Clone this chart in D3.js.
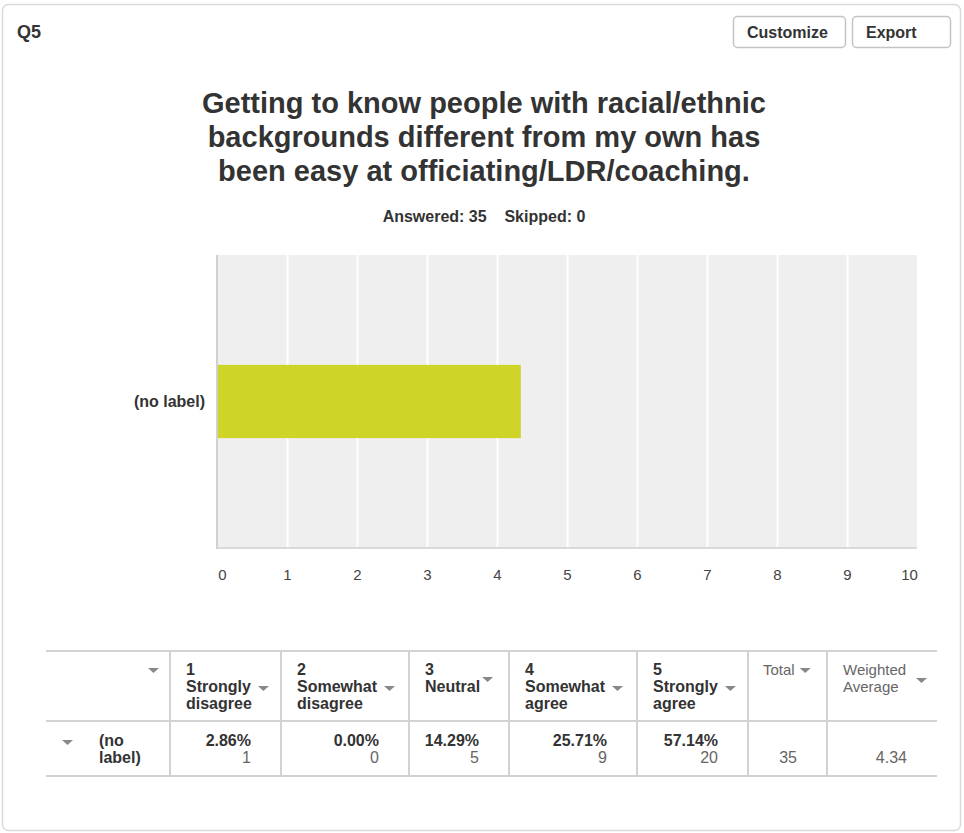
<!DOCTYPE html>
<html>
<head>
<meta charset="utf-8">
<script src="https://cdn.jsdelivr.net/npm/d3@7"></script>
<style>
  body { margin: 0; background: #fff; }
  svg { display: block; font-family: "Liberation Sans", Arial, Helvetica, sans-serif; }
  .dark { fill: #333; }
  .soft { fill: #666; }
  .caret { fill: #888; }
</style>
</head>
<body>
<svg id="chart"></svg>
<script>
// values
const questionId = 'Q5';
const titleLines = [
    'Getting to know people with racial/ethnic',
    'backgrounds different from my own has',
    'been easy at officiating/LDR/coaching.'
];
const answered = 35;
const skipped = 0;

const categories = ['(no label)'];
const averages = [4.34];
const xTickValues = [0, 1, 2, 3, 4, 5, 6, 7, 8, 9, 10];

const scaleHeaders = [
    ['1', 'Strongly', 'disagree'],
    ['2', 'Somewhat', 'disagree'],
    ['3', 'Neutral'],
    ['4', 'Somewhat', 'agree'],
    ['5', 'Strongly', 'agree']
];
const percents = ['2.86%', '0.00%', '14.29%', '25.71%', '57.14%'];
const counts = [1, 0, 5, 9, 20];
const totals = [35];
const weightedAverages = ['4.34'];

class surveyChart {
    constructor(_config) {
        this.config = {
            parentElement: _config.parentElement,
            containerWidth: 964,
            containerHeight: 833,
            plot: { left: 217, right: 917, top: 255, bottom: 548 },
            // table column edges
            cols: [46, 170, 281, 409, 509, 637, 748, 827, 937],
            tableTop: 651,
            tableMid: 721,
            tableBottom: 776,
            font: '"Liberation Sans", Arial, Helvetica, sans-serif'
        };
        this.initVis();
    }

    initVis() {
        let vis = this;
        const c = vis.config;

        vis.svg = d3.select(c.parentElement)
            .attr('width', c.containerWidth)
            .attr('height', c.containerHeight);

        // card frame
        vis.svg.append('rect')
            .attr('x', 2.5).attr('y', 4.5)
            .attr('width', 958).attr('height', 826)
            .attr('rx', 6)
            .attr('fill', '#fff')
            .attr('stroke', '#dadada')
            .attr('stroke-width', 1.5);

        vis.svg.append('text')
            .attr('class', 'dark')
            .attr('x', 17).attr('y', 38)
            .attr('font-size', 18).attr('font-weight', 'bold')
            .text(questionId);

        // buttons in the top right corner
        const buttons = [
            { label: 'Customize', x: 733, w: 112 },
            { label: 'Export', x: 852, w: 98 }
        ];
        const btn = vis.svg.selectAll('.btn')
            .data(buttons)
            .join('g')
            .attr('class', 'btn')
            .attr('transform', d => `translate(${d.x}, 16)`);
        btn.append('rect')
            .attr('x', 0.5).attr('y', 0.5)
            .attr('width', d => d.w).attr('height', 31)
            .attr('rx', 4)
            .attr('fill', '#fff')
            .attr('stroke', '#c4c4c4')
            .attr('stroke-width', 1.5);
        btn.append('text')
            .attr('class', 'dark')
            .attr('x', 14).attr('y', 22)
            .attr('font-size', 16).attr('font-weight', 'bold')
            .text(d => d.label);

        vis.svg.selectAll('.title-line')
            .data(titleLines)
            .join('text')
            .attr('class', 'title-line dark')
            .attr('x', 484)
            .attr('y', (d, i) => 113 + i * 34)
            .attr('text-anchor', 'middle')
            .attr('font-size', 29).attr('font-weight', 'bold')
            .text(d => d);

        vis.svg.append('text')
            .attr('class', 'dark')
            .attr('x', 484).attr('y', 222)
            .attr('text-anchor', 'middle')
            .attr('font-size', 16).attr('font-weight', 'bold')
            .attr('xml:space', 'preserve')
            .text(`Answered: ${answered}    Skipped: ${skipped}`);

        vis.renderBars();
        vis.renderTable();
    }

    renderBars() {
        let vis = this;
        const p = vis.config.plot;

        vis.xScale = d3.scaleLinear()
            .domain([0, 10])
            .range([p.left, p.right]);

        vis.yScale = d3.scaleBand()
            .domain(categories)
            .range([p.top, p.bottom])
            .padding(0.6);

        vis.svg.append('rect')
            .attr('x', p.left).attr('y', p.top)
            .attr('width', p.right - p.left)
            .attr('height', p.bottom - p.top)
            .attr('fill', '#efefef');

        // white grid lines
        const grid = vis.svg.append('g')
            .attr('transform', `translate(0, ${p.bottom})`)
            .call(d3.axisBottom(vis.xScale)
                .tickValues(xTickValues.slice(1, -1))
                .tickSize(-(p.bottom - p.top))
                .tickFormat(''));
        grid.select('.domain').remove();
        grid.selectAll('.tick line')
            .attr('stroke', '#fff')
            .attr('stroke-width', 2);

        vis.svg.selectAll('.bar')
            .data(averages)
            .join('rect')
            .attr('class', 'bar')
            .attr('x', vis.xScale(0))
            .attr('y', (d, i) => vis.yScale(categories[i]))
            .attr('width', d => vis.xScale(d) - vis.xScale(0))
            .attr('height', vis.yScale.bandwidth())
            .attr('fill', '#cfd428');

        // axis lines
        vis.svg.append('line')
            .attr('x1', p.left).attr('x2', p.right)
            .attr('y1', p.bottom).attr('y2', p.bottom)
            .attr('stroke', '#d9d9d9').attr('stroke-width', 2);
        vis.svg.append('line')
            .attr('x1', p.left).attr('x2', p.left)
            .attr('y1', p.top).attr('y2', p.bottom + 1)
            .attr('stroke', '#d0d0d0').attr('stroke-width', 2);

        // tick labels
        const xAxis = vis.svg.append('g')
            .attr('transform', `translate(0, ${p.bottom})`)
            .call(d3.axisBottom(vis.xScale)
                .tickValues(xTickValues)
                .tickSize(0)
                .tickPadding(21)
                .tickFormat(d3.format('d')));
        xAxis.select('.domain').remove();
        xAxis.selectAll('text')
            .attr('font-family', vis.config.font)
            .attr('font-size', 15)
            .attr('fill', '#444')
            .attr('dx', d => d === 0 ? 5 : (d === 10 ? -8 : 0));

        const yAxis = vis.svg.append('g')
            .attr('transform', `translate(${p.left}, 0)`)
            .call(d3.axisLeft(vis.yScale).tickSize(0).tickPadding(12));
        yAxis.select('.domain').remove();
        yAxis.selectAll('text')
            .attr('font-family', vis.config.font)
            .attr('font-size', 16)
            .attr('font-weight', 'bold')
            .attr('fill', '#333');
    }

    caret(x, y) {
        let vis = this;
        vis.svg.append('path')
            .attr('class', 'caret')
            .attr('d', `M${x},${y} L${x + 11},${y} L${x + 5.5},${y + 5} Z`);
    }

    renderTable() {
        let vis = this;
        const c = vis.config;
        const cols = c.cols;

        [c.tableTop, c.tableMid, c.tableBottom].forEach(y => {
            vis.svg.append('line')
                .attr('x1', cols[0]).attr('x2', cols[cols.length - 1])
                .attr('y1', y).attr('y2', y)
                .attr('stroke', '#d2d2d2').attr('stroke-width', 2);
        });
        cols.slice(1, -1).forEach(x => {
            vis.svg.append('line')
                .attr('x1', x).attr('x2', x)
                .attr('y1', c.tableTop).attr('y2', c.tableBottom)
                .attr('stroke', '#d2d2d2').attr('stroke-width', 2);
        });

        const lineH = 17;
        const headBase = 675;
        const rowBase = 746;

        // scale headers
        scaleHeaders.forEach((lines, i) => {
            const x0 = cols[i + 1] + 16;
            const t = vis.svg.append('text')
                .attr('class', 'dark')
                .attr('font-size', 16).attr('font-weight', 'bold');
            lines.forEach((l, j) => {
                t.append('tspan')
                    .attr('x', x0)
                    .attr('y', headBase + j * lineH)
                    .text(l);
            });
            const w = t.selectAll('tspan').nodes()[1].getComputedTextLength();
            if (lines.length > 2) {
                vis.caret(x0 + w + 7, headBase + lineH - 6);
            } else {
                vis.caret(x0 + w + 2, headBase + 2);
            }
        });

        const totalX = cols[6] + 15;
        const totalText = vis.svg.append('text')
            .attr('class', 'soft')
            .attr('x', totalX).attr('y', headBase)
            .attr('font-size', 15)
            .text('Total');
        vis.caret(totalX + totalText.node().getComputedTextLength() + 5, headBase - 7);

        const wa = vis.svg.append('text')
            .attr('class', 'soft')
            .attr('font-size', 15);
        ['Weighted', 'Average'].forEach((l, j) => {
            wa.append('tspan').attr('x', cols[7] + 16).attr('y', headBase + j * lineH).text(l);
        });
        vis.caret(cols[8] - 21, headBase + 3);

        // first column carets
        vis.caret(cols[1] - 22, headBase - 7);
        vis.caret(62, rowBase - 6);

        const rowLabel = vis.svg.append('text')
            .attr('class', 'dark')
            .attr('font-size', 16).attr('font-weight', 'bold');
        ['(no', 'label)'].forEach((l, j) => {
            rowLabel.append('tspan').attr('x', 99).attr('y', rowBase + j * lineH).text(l);
        });

        // percent + count cells, right aligned
        vis.svg.selectAll('.pct')
            .data(percents)
            .join('text')
            .attr('class', 'pct dark')
            .attr('x', (d, i) => cols[i + 2] - 30)
            .attr('y', rowBase)
            .attr('text-anchor', 'end')
            .attr('font-size', 16).attr('font-weight', 'bold')
            .text(d => d);

        vis.svg.selectAll('.cnt')
            .data(counts)
            .join('text')
            .attr('class', 'cnt soft')
            .attr('x', (d, i) => cols[i + 2] - 30)
            .attr('y', rowBase + lineH)
            .attr('text-anchor', 'end')
            .attr('font-size', 16)
            .text(d => d);

        vis.svg.append('text')
            .attr('class', 'soft')
            .attr('x', cols[7] - 30).attr('y', rowBase + lineH)
            .attr('text-anchor', 'end')
            .attr('font-size', 16)
            .text(totals[0]);

        vis.svg.append('text')
            .attr('class', 'soft')
            .attr('x', cols[8] - 30).attr('y', rowBase + lineH)
            .attr('text-anchor', 'end')
            .attr('font-size', 16)
            .text(weightedAverages[0]);
    }
}

new surveyChart({ parentElement: '#chart' });
</script>
</body>
</html>
